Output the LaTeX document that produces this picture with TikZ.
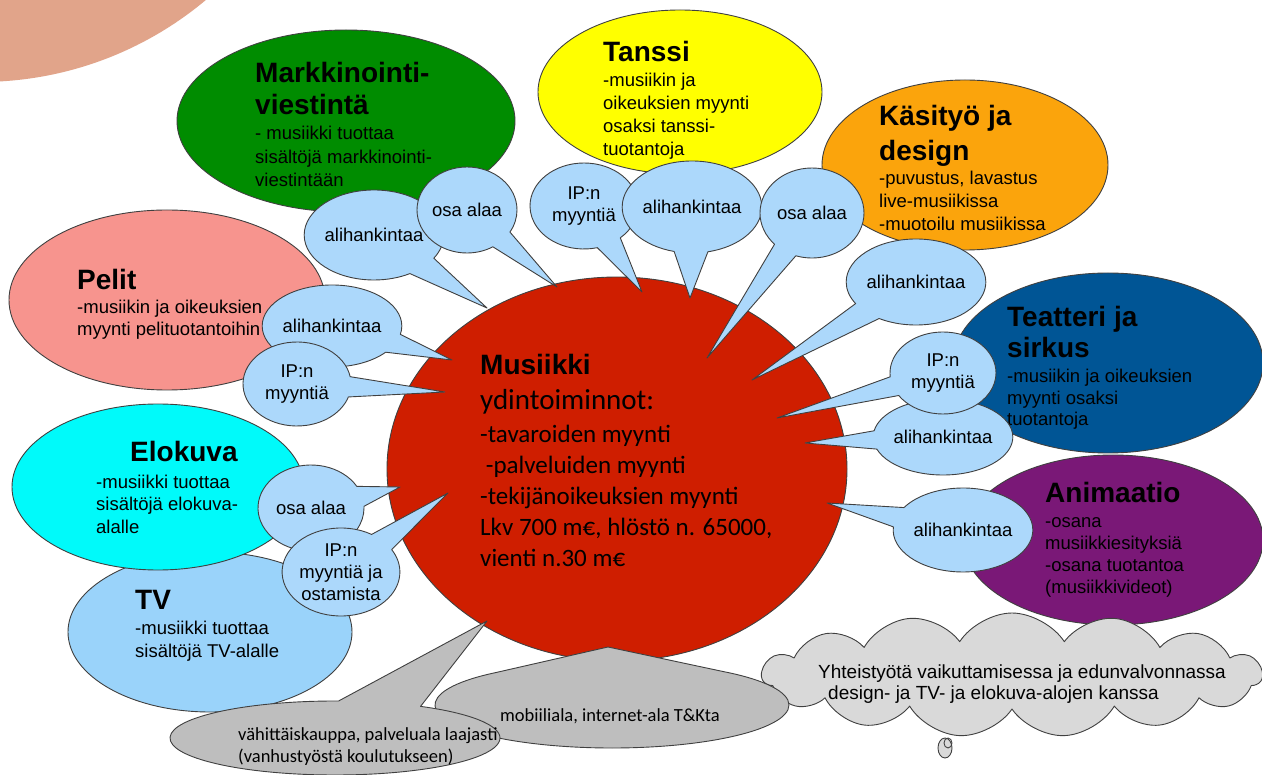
\documentclass[tikz,border=0pt]{standalone}
\usepackage{fontspec}
\setmainfont{Liberation Sans}
\newfontfamily\calib{Carlito}
\usetikzlibrary{shapes.geometric,shapes.callouts,shapes.symbols}
\definecolor{peach}{HTML}{E1A48A}
\definecolor{mgreen}{HTML}{008C00}
\definecolor{myellow}{HTML}{FFFF00}
\definecolor{morange}{HTML}{FBA40C}
\definecolor{mpink}{HTML}{F7948E}
\definecolor{mcyan}{HTML}{00FAFA}
\definecolor{mtv}{HTML}{9AD3FA}
\definecolor{bubblue}{HTML}{ACD8FB}
\definecolor{mred}{HTML}{CF1E00}
\definecolor{mblue}{HTML}{005595}
\definecolor{mpurple}{HTML}{7A1877}
\definecolor{bubgray}{HTML}{BEBEBE}
\definecolor{cloudgray}{HTML}{D9D9D9}
\begin{document}
\begin{tikzpicture}[x=1pt,y=-1pt,line join=round,
  area/.style={ellipse,draw=black!75,line width=0.9pt,inner sep=0pt},
  head/.style={anchor=base west,align=left,inner sep=0pt,font=\fontsize{28}{33}\selectfont\bfseries},
  body/.style={anchor=base west,align=left,inner sep=0pt,font=\fontsize{18.5}{23}\selectfont},
  bubble/.style={ellipse callout,draw=black!75,line width=0.9pt,fill=bubblue,inner sep=0pt,
    callout pointer arc=28,align=center,font=\fontsize{18.5}{22}\selectfont},
  graybubble/.style={bubble,fill=bubgray,font=\calib\fontsize{18.5}{22}\selectfont}]
\useasboundingbox (0,0) rectangle (1262,775);
\clip (0,0) rectangle (1262,775);
\fill[white] (0,0) rectangle (1262,775);
\fill[peach] (-20,-270) circle (352pt);

% sector ellipses
\node[area,fill=mgreen,minimum width=338pt,minimum height=182pt] (markk) at (346,121) {};
\node[area,fill=myellow,minimum width=284pt,minimum height=164pt] (tanssi) at (680,92) {};
\node[area,fill=morange,minimum width=286pt,minimum height=170pt] (kasityo) at (965,165) {};
\node[area,fill=mpink,minimum width=316pt,minimum height=180pt] (pelit) at (167,300) {};
\node[area,fill=mtv,minimum width=284pt,minimum height=160pt] (tv) at (210,632) {};
\node[area,fill=mcyan,minimum width=292pt,minimum height=166pt] (elokuva) at (158,487) {};
\node[area,fill=mblue,minimum width=310pt,minimum height=180pt] (teatteri) at (1108,363) {};
\node[area,fill=mpurple,minimum width=300pt,minimum height=170pt] (animaatio) at (1113,540) {};
\node[area,fill=mred,minimum width=460pt,minimum height=384pt] (musiikki) at (617,469) {};

% texts: a node's base is the baseline of its last line
\node[head,font=\fontsize{28}{32}\selectfont\bfseries] (markkH) at (255,115) {Markkinointi-\\viestintä};
\node[body,font=\fontsize{18.5}{23.5}\selectfont] (markkB) at (255,187) {- musiikki tuottaa\\sisältöjä markkinointi-\\viestintään};
\node[head] (tanssiH) at (603,62) {Tanssi};
\node[body] (tanssiB) at (603,156) {-musiikin ja\\oikeuksien myynti\\osaksi tanssi-\\tuotantoja};
\node[head,font=\fontsize{28}{35}\selectfont\bfseries] (kasityoH) at (879,161) {Käsityö ja\\design};
\node[body] (kasityoB) at (879,231) {-puvustus, lavastus\\live-musiikissa\\-muotoilu musiikissa};
\node[head] (pelitH) at (77,290) {Pelit};
\node[body,font=\fontsize{18.5}{21.5}\selectfont] (pelitB) at (77,335.5) {-musiikin ja oikeuksien\\myynti pelituotantoihin};
\node[head] (elokuvaH) at (130,462) {Elokuva};
\node[body,font=\fontsize{18.5}{22.5}\selectfont] (elokuvaB) at (96,533) {-musiikki tuottaa\\sisältöjä elokuva-\\alalle};
\node[head] (tvH) at (135,609) {TV};
\node[body] (tvB) at (135,657) {-musiikki tuottaa\\sisältöjä TV-alalle};
\node[head,font=\fontsize{28}{31}\selectfont\bfseries] (teatteriH) at (1007,358) {Teatteri ja\\sirkus};
\node[body,font=\fontsize{18.5}{21.5}\selectfont] (teatteriB) at (1007,426) {-musiikin ja oikeuksien\\myynti osaksi\\tuotantoja};
\node[head] (animaatioH) at (1045,503) {Animaatio};
\node[body,font=\fontsize{18.5}{21.7}\selectfont] (animaatioB) at (1045,593) {-osana\\musiikkiesityksiä\\-osana tuotantoa\\(musiikkivideot)};

\node[head] (musiikkiH) at (480,375) {Musiikki};
\node[body,font=\calib\fontsize{29}{31}\selectfont] (musiikkiS) at (480,410) {ydintoiminnot:};
\node[body,font=\calib\fontsize{25}{31}\selectfont] (musiikkiB) at (480,566) {-tavaroiden myynti\\\ -palveluiden myynti\\-tekijänoikeuksien myynti\\Lkv 700 m€, hlöstö n. 65000,\\vienti n.30 m€};

% tail tips
\coordinate (tipa) at (487,308);
\coordinate (tipb) at (557,287);
\coordinate (tipc) at (642,292);
\coordinate (tipd) at (690,298);
\coordinate (tipe) at (707,358);
\coordinate (tipf) at (752,380);
\coordinate (tipg) at (777,418);
\coordinate (tiph) at (805,443);
\coordinate (tipi) at (827,503);
\coordinate (tipj) at (452,360);
\coordinate (tipk) at (445,392);
\coordinate (tipl) at (400,487);
\coordinate (tipm) at (448,493);
\coordinate (tipmob) at (608,647);
\coordinate (tipret) at (487,621);

% other fields
\node[cloud,cloud puffs=15,cloud puff arc=115,cloud ignores aspect,draw=black!75,line width=0.9pt,
  fill=cloudgray,minimum width=500pt,minimum height=124pt] (coop) at (1012,675) {};
\node[body,font=\fontsize{19}{21}\selectfont] (coopT) at (818,699) {Yhteistyötä vaikuttamisessa ja edunvalvonnassa\\\hspace{10pt}design- ja TV- ja elokuva-alojen kanssa};
\draw[black!75,line width=0.9pt,fill=cloudgray] (945,748) ellipse[x radius=7,y radius=10];
\draw[black!75,line width=0.9pt] (948,743) ellipse[x radius=4,y radius=5];
\node[graybubble,minimum width=354pt,minimum height=86pt,callout pointer arc=80,
  callout absolute pointer={(tipmob)}] (mobile) at (612,705) {};
\node[body,font=\calib\fontsize{18.5}{22}\selectfont] (mobileT) at (500,721) {mobiiliala, internet-ala T\&Kta};
\node[graybubble,minimum width=330pt,minimum height=74pt,callout pointer arc=30,
  callout absolute pointer={(tipret)}] (retail) at (335,738) {};
\node[body,font=\calib\fontsize{18.5}{22}\selectfont] (retailT) at (238,762) {vähittäiskauppa, palveluala laajasti\\(vanhustyöstä koulutukseen)};

% speech bubbles
\node[bubble,minimum width=112pt,minimum height=90pt,callout absolute pointer={(tipa)}] (suba) at (374,235) {alihankintaa};
\node[bubble,minimum width=100pt,minimum height=86pt,callout absolute pointer={(tipb)}] (parta) at (467,210) {osa alaa};
\node[bubble,minimum width=108pt,minimum height=86pt,callout absolute pointer={(tipc)}] (ipc) at (584,206) {IP:n\\myyntiä};
\node[bubble,minimum width=108pt,minimum height=92pt,callout absolute pointer={(tipd)}] (subd) at (692,207) {alihankintaa};
\node[bubble,minimum width=104pt,minimum height=90pt,callout absolute pointer={(tipe)}] (parte) at (812,213) {osa alaa};
\node[bubble,minimum width=112pt,minimum height=86pt,callout absolute pointer={(tipf)}] (subf) at (916,282) {alihankintaa};
\node[bubble,minimum width=108pt,minimum height=82pt,callout absolute pointer={(tipj)}] (subj) at (332,326) {alihankintaa};
\node[bubble,minimum width=108pt,minimum height=84pt,callout absolute pointer={(tipk)}] (ipk) at (297,384) {IP:n\\myyntiä};
\node[bubble,minimum width=106pt,minimum height=86pt,callout absolute pointer={(tipl)}] (partl) at (311,508) {osa alaa};
\node[bubble,minimum width=96pt,minimum height=88pt,callout absolute pointer={(tipm)}] (ipm) at (341,572) {IP:n\\myyntiä ja\\ostamista};
\node[bubble,minimum width=106pt,minimum height=76pt,callout absolute pointer={(tiph)}] (subh) at (943,437) {alihankintaa};
\node[bubble,minimum width=106pt,minimum height=82pt,callout absolute pointer={(tipg)}] (ipg) at (943,373) {IP:n\\myyntiä};
\node[bubble,minimum width=106pt,minimum height=84pt,callout absolute pointer={(tipi)}] (subi) at (963,530) {alihankintaa};
\end{tikzpicture}
\end{document}
